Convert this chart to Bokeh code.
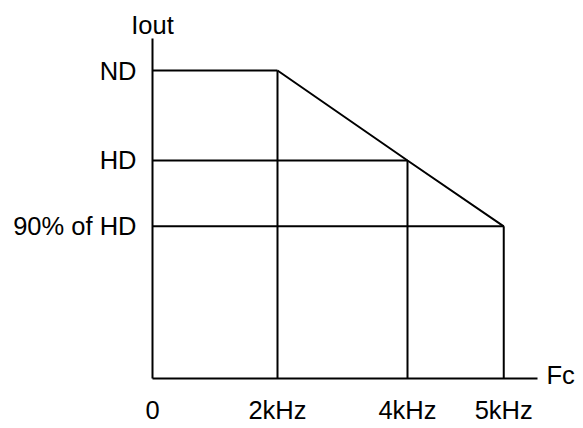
from bokeh.plotting import figure
from bokeh.models import Range1d, FixedTicker, LinearAxis
from bokeh.embed import file_html
from bokeh.resources import INLINE

# Schematic derating diagram data
freq_labels = ["0", "2kHz", "4kHz", "5kHz"]
freq_pos = [0.0, 2.0, 4.08, 5.62]          # schematic horizontal positions
level_labels = ["ND", "HD", "90% of HD"]
level_vals = [100.0, 70.8, 49.4]            # schematic output-current levels
corner_x = [2.0, 4.08, 5.62]                # carrier frequency where each level ends
x_title = "Fc"
y_title = "Iout"
x_end = 6.16
y_end = 110.4

FONT = "Liberation Sans"
FS = "25.5px"

p = figure(width=583, height=428, output_backend="svg", toolbar_location=None,
           x_range=Range1d(0, x_end), y_range=Range1d(0, y_end),
           min_border_left=152, min_border_right=46, min_border_top=38, min_border_bottom=50)
p.outline_line_color = None
p.grid.visible = False
p.background_fill_color = "white"
p.border_fill_color = "white"

# horizontal level lines
p.segment(x0=[0] * len(level_vals), y0=level_vals, x1=corner_x, y1=level_vals,
          line_color="black", line_width=2)
# vertical lines down to the frequency axis
p.segment(x0=corner_x, y0=[0] * len(corner_x), x1=corner_x, y1=level_vals,
          line_color="black", line_width=2)
# derating slope
p.line(corner_x, level_vals, line_color="black", line_width=2)


def style(ax):
    ax.axis_line_color = "black"
    ax.axis_line_width = 2
    ax.major_tick_in = 0
    ax.major_tick_out = 0
    ax.minor_tick_in = 0
    ax.minor_tick_out = 0
    ax.major_label_text_font = FONT
    ax.major_label_text_font_size = FS
    ax.major_label_text_color = "black"


style(p.xaxis[0])
style(p.yaxis[0])

p.xaxis.ticker = FixedTicker(ticks=freq_pos)
p.xaxis.major_label_overrides = {v: t for v, t in zip(freq_pos, freq_labels)}
p.xaxis.major_label_standoff = 17

p.yaxis.ticker = FixedTicker(ticks=level_vals)
p.yaxis.major_label_overrides = {v: t for v, t in zip(level_vals, level_labels)}
p.yaxis.major_label_standoff = 16

# axis titles drawn as single-tick label-only axes
top_ax = LinearAxis(ticker=FixedTicker(ticks=[0.0]), major_label_overrides={0.0: y_title})
style(top_ax)
top_ax.axis_line_color = None
top_ax.major_label_standoff = 0
p.add_layout(top_ax, "above")

# "Fc" sits level with the frequency axis, nudged up ~4px
fc_y = 4 * y_end / 340
right_ax = LinearAxis(ticker=FixedTicker(ticks=[fc_y]), major_label_overrides={fc_y: x_title})
style(right_ax)
right_ax.axis_line_color = None
right_ax.major_label_standoff = 9
p.add_layout(right_ax, "right")

open("out.html", "w").write(file_html(p, INLINE))
